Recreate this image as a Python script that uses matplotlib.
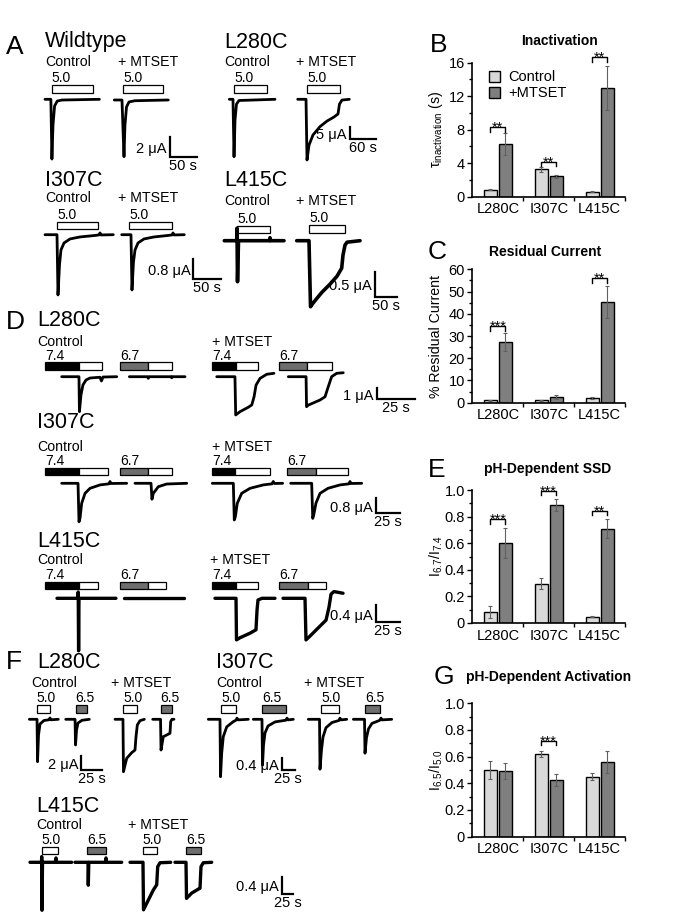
import matplotlib.pyplot as plt
from matplotlib.patches import Rectangle
import numpy as np

plt.rcParams["font.family"] = ["Liberation Sans", "DejaVu Sans"]
plt.rcParams["mathtext.fontset"] = "custom"
plt.rcParams["mathtext.rm"] = "Liberation Sans"
plt.rcParams["mathtext.it"] = "Liberation Sans:italic"

# ---------------- bar chart data ----------------
mutants = ["L280C", "I307C", "L415C"]

inact_ctrl = [0.85, 3.25, 0.6]
inact_ctrl_err = [0.05, 0.25, 0.08]
inact_mts = [6.25, 2.45, 12.95]
inact_mts_err = [1.3, 0.2, 2.6]
inact_sig = [(0, "**", 8.3), (1, "**", 4.2), (2, "**", 16.7)]

resid_ctrl = [1.0, 1.1, 2.2]
resid_ctrl_err = [0.2, 0.3, 0.5]
resid_mts = [27.2, 2.5, 45.2]
resid_mts_err = [4.0, 0.8, 7.3]
resid_sig = [(0, "***", 34.5), (2, "**", 56.0)]

ssd_ctrl = [0.083, 0.295, 0.048]
ssd_ctrl_err = [0.048, 0.04, 0.005]
ssd_mts = [0.60, 0.89, 0.71]
ssd_mts_err = [0.115, 0.045, 0.073]
ssd_sig = [(0, "***", 0.78), (1, "***", 0.995), (2, "**", 0.845)]

act_ctrl = [0.50, 0.62, 0.45]
act_ctrl_err = [0.07, 0.025, 0.027]
act_mts = [0.49, 0.425, 0.56]
act_mts_err = [0.06, 0.043, 0.085]
act_sig = [(1, "***", 0.72)]

# ---------------- current traces: time (s), current (uA) ----------------
# panel A, 5.0 application
wt_ctrl_t = [0, 11, 13, 15, 18, 23, 32, 102]
wt_ctrl_i = [0, 0, -5.8, -2.5, -0.65, -0.17, -0.07, 0]
wt_ctrl_pulse = [(12.6, 89.5, "w")]
wt_mts_t = [0, 14.4, 18.2, 20, 22.9, 27.6, 38.8, 101.3]
wt_mts_i = [0, 0, -5.5, -2.43, -0.68, -0.19, -0.07, 0]
wt_mts_pulse = [(16.9, 91.9, "w")]

a280_ctrl_t = [0, 8.5, 10.9, 13.2, 16.6, 22.4, 105.5]
a280_ctrl_i = [0, 0, -22.7, -8.2, -1.9, -0.47, 0]
a280_ctrl_pulse = [(11.5, 86.4, "w")]
a280_mts_t = [0, 19.2, 21.5, 26.1, 35.3, 51.5, 67.7, 83.8, 93.1, 96.5, 102.3, 119.2]
a280_mts_i = [0, 0, -24, -18.1, -14.1, -10.8, -8.6, -7, -5.8, -1.9, -0.3, 0]
a280_mts_pulse = [(22.2, 97.7, "w")]

a307_ctrl_t = [0, 21.7, 23.5, 26.2, 28.9, 34.4, 45.2, 63.3, 90.4, 97.6, 99.5, 101.3, 123.5]
a307_ctrl_i = [0, 0, -2.41, -1.21, -0.61, -0.33, -0.17, -0.09, -0.03, -0.01, 0.07, -0.01, 0]
a307_ctrl_pulse = [(22.2, 96.4, "w")]
a307_mts_t = [0, 16.8, 18.6, 21.3, 24.1, 29.5, 40.3, 58.4, 83.7, 90.9, 92.8, 94.6, 113.2]
a307_mts_i = [0, 0, -2.21, -1.09, -0.61, -0.33, -0.17, -0.09, -0.03, -0.01, 0.07, -0.01, 0]
a307_mts_pulse = [(13.7, 90.4, "w")]

a415_ctrl_t = [0, 29.3, 29.3, 30.5, 32.8, 104.5, 105.5, 106.5, 137.9]
a415_ctrl_i = [0, 0, 0.25, -0.82, 0, 0, 0.06, 0, 0]
a415_ctrl_pulse = [(30.0, 105.5, "w")]
a415_mts_t = [0, 28.4, 31.9, 37.6, 46.9, 58.4, 76.9, 93.1, 103.9, 106.9, 111.5, 116.2, 146.2]
a415_mts_i = [0, 0, -1.32, -1.25, -1.15, -1.03, -0.87, -0.71, -0.55, -0.29, -0.09, -0.03, 0]
a415_mts_pulse = [(29.1, 111.5, "w")]

# panel D, 7.4 -> 5.0 and 6.7 -> 5.0
d280_ctrl74_t = [10.9, 22.2, 22.5, 23.5, 24.8, 26.8, 29.4, 35.9, 36.9, 37.9, 46.9]
d280_ctrl74_i = [0, 0, -3.18, -1.67, -0.75, -0.3, -0.12, -0.05, -0.39, -0.03, 0]
d280_ctrl74_pulse = [(0, 22.4, "k"), (22.4, 37.5, "w")]
d280_ctrl67_t = [6.1, 18.0, 18.5, 19.0, 33.4, 33.8, 34.2, 42.5]
d280_ctrl67_i = [0, 0, -0.15, 0, 0, -0.1, 0, 0]
d280_ctrl67_pulse = [(0, 18.5, "g"), (18.5, 33.8, "w")]
d280_mts74_t = [2.9, 14.8, 15.3, 18.1, 23.5, 25.8, 27.3, 28.6, 31.2, 35.6, 40.3]
d280_mts74_i = [0, 0, -3.48, -3.18, -2.78, -2.57, -1.82, -0.76, -0.15, 0.22, 0.31]
d280_mts74_pulse = [(0, 15.5, "k"), (15.5, 29.7, "w")]
d280_mts67_t = [5.9, 17.5, 17.8, 19.0, 26.6, 29.9, 32.0, 34.2, 37.5, 41.8]
d280_mts67_i = [0, 0, -2.73, -2.58, -2.12, -1.82, -0.91, 0, 0.31, 0.36]
d280_mts67_pulse = [(0, 18.3, "g"), (18.3, 34.2, "w")]

d307_ctrl74_t = [17.4, 34.4, 35.4, 36.5, 38.2, 41.7, 46.9, 57.3, 66.7, 67.7, 68.8, 85.1]
d307_ctrl74_i = [0, 0, -2.15, -1.94, -1.12, -0.56, -0.28, -0.09, -0.03, 0.10, -0.01, 0]
d307_ctrl74_pulse = [(0, 35.7, "k"), (35.7, 65.9, "w")]
d307_ctrl67_t = [15.6, 32.3, 33.3, 34.7, 39.9, 48.6, 69.5]
d307_ctrl67_i = [0, 0, -0.89, -0.56, -0.19, -0.04, 0]
d307_ctrl67_pulse = [(0, 29.5, "g"), (29.5, 53.9, "w")]
d307_mts74_t = [0, 21.9, 22.9, 24.0, 26.0, 30.6, 39.3, 53.1, 62.2, 63.5, 64.8, 73.3]
d307_mts74_i = [0, 0, -2.05, -1.87, -1.12, -0.56, -0.28, -0.09, -0.03, 0.10, -0.01, 0]
d307_mts74_pulse = [(0, 23.6, "k"), (23.6, 60.1, "w")]
d307_mts67_t = [3.5, 25.4, 26.5, 27.5, 29.9, 34.1, 42.4, 54.9, 64.3, 65.3, 66.4, 77.5]
d307_mts67_i = [0, 0, -1.96, -1.77, -1.10, -0.56, -0.28, -0.09, -0.03, 0.1, -0.01, 0]
d307_mts67_pulse = [(0, 29.9, "g"), (29.9, 63.5, "w")]

d415_ctrl74_t = [12.5, 34.4, 34.6, 35.0, 35.4, 73.9]
d415_ctrl74_i = [0, 0, 0.15, -1.25, 0, 0]
d415_ctrl74_pulse = [(0, 35.7, "k"), (35.7, 55.5, "w")]
d415_ctrl67_t = [4.2, 66.7]
d415_ctrl67_i = [0, 0]
d415_ctrl67_pulse = [(0, 29.5, "g"), (29.5, 47.6, "w")]
d415_mts74_t = [2.8, 24.7, 25.2, 28.8, 39.3, 45.5, 46.6, 47.6, 51.8, 65.3]
d415_mts74_i = [0, 0, -0.99, -0.94, -0.83, -0.75, -0.28, -0.04, 0, 0]
d415_mts74_pulse = [(0, 24.7, "k"), (24.7, 47.3, "w")]
d415_mts67_t = [4.2, 27.1, 28.1, 32.3, 40.6, 49.0, 52.1, 54.2, 57.3, 66.7]
d415_mts67_i = [0, 0, -0.99, -0.90, -0.71, -0.52, -0.21, 0.1, 0.16, 0.12]
d415_mts67_pulse = [(0, 29.9, "g"), (29.9, 48.6, "w")]

# panel F, 5.0 and 6.5 applications
f280_ctrl50_t = [-8.9, 0.4, 1.0, 2.2, 4.0, 8.8, 14.8, 16.0, 17.2, 26.0]
f280_ctrl50_i = [0, 0, -6.06, -2.24, -0.67, -0.17, -0.07, 0.19, -0.07, 0]
f280_ctrl65_t = [-12, -0.8, -0.2, 1.0, 2.8, 7.6, 16.4]
f280_ctrl65_i = [0, 0, -3.67, -1.53, -0.53, -0.14, 0]
f280_mts50_t = [-10, -0.4, 0.2, 4.1, 10.1, 14.1, 15.3, 16.9, 20.1, 25.3]
f280_mts50_i = [0, 0, -7.49, -5.57, -4.77, -4.39, -2.49, -0.81, -0.2, 0]
f280_mts65_t = [-9.6, -0.2, 0.4, 3.1, 7.2, 11.2, 12.0, 13.6, 16.0]
f280_mts65_i = [0, 0, -4.39, -2.49, -2.24, -2.0, -0.34, 0, 0]
f280_pulse = [16.0, 14.0, 16.1, 13.3]

f307_ctrl50_t = [-24, -1.9, -0.9, 1.3, 4.3, 10.8, 23.2, 28.3, 30.2, 32.1, 51.5]
f307_ctrl50_i = [0, 0, -1.98, -1.17, -0.6, -0.26, -0.08, -0.03, 0.04, -0.02, 0]
f307_ctrl65_t = [-17, -0.6, 0.4, 2.3, 5.1, 10.8, 24.0, 44.7, 46.6, 48.5, 58.5]
f307_ctrl65_i = [0, 0, -1.58, -0.89, -0.47, -0.23, -0.09, -0.03, 0.04, -0.02, 0]
f307_mts50_t = [-24, -2.8, -1.9, 0.9, 3.8, 9.4, 20.8, 34, 35.8, 37.7, 48.5]
f307_mts50_i = [0, 0, -1.72, -1.06, -0.61, -0.29, -0.11, -0.04, 0.04, -0.02, 0]
f307_mts65_t = [-22, -0.9, 0, 2.8, 6.6, 13.2, 24.5, 28.3, 30.2, 32.1, 50.4]
f307_mts65_i = [0, 0, -1.17, -0.64, -0.33, -0.14, -0.06, -0.03, 0.04, -0.02, 0]
f307_pulse = [28.3, 44.2, 34.5, 28.3]

f415_ctrl50_t = [-24.9, -0.4, 0, 0.6, 1.7, 29.4, 30.4, 31.5, 63.8]
f415_ctrl50_i = [0, 0, 0.13, -1.09, 0, 0, 0.1, 0, 0]
f415_ctrl65_t = [-26.2, 1.5, 2.1, 3.2, 38.7, 39.8, 40.9, 73.2]
f415_ctrl65_i = [0, 0, -0.52, 0, 0, 0.1, 0, 0]
f415_mts50_t = [-27, 0.6, 1.7, 11.9, 22.6, 29.8, 31.9, 36.8, 59.6]
f415_mts50_i = [0, 0, -1.08, -0.86, -0.63, -0.51, -0.1, -0.01, 0]
f415_mts65_t = [-23.4, 0, 1.1, 12.1, 26.2, 29.8, 31.9, 36.8, 54.7]
f415_mts65_i = [0, 0, -0.82, -0.7, -0.61, -0.59, -0.1, -0.01, 0]
f415_pulse = [34.0, 39.1, 29.8, 31.3]

# ---------------- figure ----------------
W, H = 673, 919
fig = plt.figure(figsize=(W / 100, H / 100), dpi=100)
ax = fig.add_axes([0, 0, 1, 1])
ax.set_xlim(0, W)
ax.set_ylim(H, 0)
ax.axis("off")

fills = {"w": "white", "k": "black", "g": "#6e6e6e"}
BAR_H = 7.5


def trace(x0, y0, sx, sy, t, i, pulses, bar_y, label=None, lw=2.0):
    t = np.asarray(t, float)
    i = np.asarray(i, float)
    ax.plot(x0 + sx * t, y0 - sy * i, color="black", lw=lw,
            solid_joinstyle="round", solid_capstyle="round")
    for t0, t1, c in pulses:
        ax.add_patch(Rectangle((x0 + sx * t0, bar_y), sx * (t1 - t0), BAR_H,
                               facecolor=fills[c], edgecolor="black", lw=0.9))
    if label:
        ax.text(x0 + sx * pulses[0][0], bar_y - 2.5, label, fontsize=10,
                ha="left", va="baseline")


def scalebar(xc, yc, sx, sy, amp, dur, amp_txt, dur_txt):
    ax.plot([xc, xc, xc + sx * dur], [yc - sy * amp, yc, yc], color="black",
            lw=1.6, solid_joinstyle="miter")
    ax.text(xc - 3, yc - sy * amp / 2 + 2, amp_txt, fontsize=10.5, ha="right", va="center")
    ax.text(xc + sx * dur / 2, yc + 2, dur_txt, fontsize=10.5, ha="center", va="top")


def label(x, y, s, size=10.2):
    ax.text(x, y, s, fontsize=size, ha="left", va="center")


# panel letters
for lx, ly, s in [(6, 47, "A"), (430, 45, "B"), (428, 252, "C"), (6, 322, "D"),
                  (428, 470, "E"), (6, 662, "F"), (434, 677, "G")]:
    ax.text(lx, ly, s, fontsize=19, ha="left", va="center")

# ---- A ----
for x, y, s in [(45, 42, "Wildtype"), (224, 42, "L280C"), (45, 181, "I307C"), (224, 181, "L415C")]:
    label(x, y, s, 15.5)
for x, y, s in [(45, 62, "Control"), (118, 62, "+ MTSET"), (224, 62, "Control"), (296, 62, "+ MTSET"),
                (45, 198, "Control"), (118, 198, "+ MTSET"), (224, 201, "Control"), (296, 201, "+ MTSET")]:
    label(x, y, s)

trace(45, 99.3, 0.533, 10.3, wt_ctrl_t, wt_ctrl_i, wt_ctrl_pulse, 85, "5.0")
trace(114.3, 100, 0.533, 10.3, wt_mts_t, wt_mts_i, wt_mts_pulse, 85, "5.0")
scalebar(170, 157.3, 0.533, 10.3, 2, 50, "2 \u03bcA", "50 s")

trace(229.3, 99.3, 0.433, 2.53, a280_ctrl_t, a280_ctrl_i, a280_ctrl_pulse, 85, "5.0")
trace(297.7, 99.3, 0.433, 2.53, a280_mts_t, a280_mts_i, a280_mts_pulse, 85, "5.0")
scalebar(350, 139.3, 0.433, 2.53, 5, 60, "5 \u03bcA", "60 s")

trace(45, 234.7, 0.553, 25, a307_ctrl_t, a307_ctrl_i, a307_ctrl_pulse, 221.7, "5.0")
trace(121.7, 234.7, 0.553, 25, a307_mts_t, a307_mts_i, a307_mts_pulse, 221.7, "5.0")
scalebar(193.3, 279.3, 0.553, 25, 0.8, 50, "0.8 \u03bcA", "50 s")

trace(224.3, 240.7, 0.433, 50, a415_ctrl_t, a415_ctrl_i, a415_ctrl_pulse, 225.5, "5.0", lw=2.6)
trace(296.7, 240.7, 0.433, 50, a415_mts_t, a415_mts_i, a415_mts_pulse, 225, "5.0", lw=2.6)
scalebar(375, 296.7, 0.433, 50, 0.5, 50, "0.5 \u03bcA", "50 s")

# ---- D ----
for x, y, s in [(37, 321, "L280C"), (37, 423, "I307C"), (37, 541.7, "L415C")]:
    label(x, y, s, 15.5)
for x, y, s in [(37, 341.7, "Control"), (212, 341.7, "+ MTSET"), (37, 446.7, "Control"),
                (212, 446.7, "+ MTSET"), (37, 560, "Control"), (210, 560, "+ MTSET")]:
    label(x, y, s)

sx, sy = 1.53, 11
trace(45, 376.7, sx, sy, d280_ctrl74_t, d280_ctrl74_i, d280_ctrl74_pulse, 362.3, "7.4")
trace(120, 376.7, sx, sy, d280_ctrl67_t, d280_ctrl67_i, d280_ctrl67_pulse, 362.3, "6.7")
trace(212.3, 376.7, sx, sy, d280_mts74_t, d280_mts74_i, d280_mts74_pulse, 362.3, "7.4")
trace(279.3, 376.7, sx, sy, d280_mts67_t, d280_mts67_i, d280_mts67_pulse, 362.3, "6.7")
scalebar(376.7, 399.3, sx, sy, 1, 25, "1 \u03bcA", "25 s")

sx, sy = 0.96, 17.9
trace(45, 483.3, sx, sy, d307_ctrl74_t, d307_ctrl74_i, d307_ctrl74_pulse, 467.5, "7.4")
trace(120, 483.3, sx, sy, d307_ctrl67_t, d307_ctrl67_i, d307_ctrl67_pulse, 467.5, "6.7")
trace(212.3, 483.3, sx, sy, d307_mts74_t, d307_mts74_i, d307_mts74_pulse, 467.5, "7.4")
trace(287.3, 483.3, sx, sy, d307_mts67_t, d307_mts67_i, d307_mts67_pulse, 467.5, "6.7")
scalebar(376, 512.7, sx, sy, 0.8, 25, "0.8 \u03bcA", "25 s")

sx, sy = 0.96, 42
trace(45, 598.3, sx, sy, d415_ctrl74_t, d415_ctrl74_i, d415_ctrl74_pulse, 581.7, "7.4", lw=2.4)
trace(120, 598.3, sx, sy, d415_ctrl67_t, d415_ctrl67_i, d415_ctrl67_pulse, 581.7, "6.7", lw=2.4)
trace(212.3, 598.3, sx, sy, d415_mts74_t, d415_mts74_i, d415_mts74_pulse, 581.7, "7.4", lw=2.4)
trace(279, 598.3, sx, sy, d415_mts67_t, d415_mts67_i, d415_mts67_pulse, 581.7, "6.7", lw=2.4)
scalebar(376, 622, sx, sy, 0.4, 25, "0.4 \u03bcA", "25 s")

# ---- F ----
for x, y, s in [(37, 662, "L280C"), (216, 662, "I307C"), (36, 806.7, "L415C")]:
    label(x, y, s, 15.5)
for x, y, s in [(31, 683.3, "Control"), (111, 683.3, "+ MTSET"), (216, 683.3, "Control"),
                (304, 683.3, "+ MTSET"), (36, 825, "Control"), (128, 825, "+ MTSET")]:
    label(x, y, s)

sx, sy = 0.83, 7
trace(36.7, 719.3, sx, sy, f280_ctrl50_t, f280_ctrl50_i, [(0, f280_pulse[0], "w")], 705, "5.0")
trace(75.7, 719.3, sx, sy, f280_ctrl65_t, f280_ctrl65_i, [(0, f280_pulse[1], "g")], 705, "6.5")
trace(123.3, 719.3, sx, sy, f280_mts50_t, f280_mts50_i, [(0, f280_pulse[2], "w")], 705, "5.0")
trace(160.7, 719.3, sx, sy, f280_mts65_t, f280_mts65_i, [(0, f280_pulse[3], "g")], 705, "6.5")
scalebar(81, 770, sx, sy, 2, 25, "2 \u03bcA", "25 s")

sx, sy = 0.53, 29
trace(221, 719.3, sx, sy, f307_ctrl50_t, f307_ctrl50_i, [(0, f307_pulse[0], "w")], 705, "5.0")
trace(262.3, 719.3, sx, sy, f307_ctrl65_t, f307_ctrl65_i, [(0, f307_pulse[1], "g")], 705, "6.5")
trace(321, 719.3, sx, sy, f307_mts50_t, f307_mts50_i, [(0, f307_pulse[2], "w")], 705, "5.0")
trace(365, 719.3, sx, sy, f307_mts65_t, f307_mts65_i, [(0, f307_pulse[3], "g")], 705, "6.5")
scalebar(281.7, 770, sx, sy, 0.4, 25, "0.4 \u03bcA", "25 s")

sx, sy = 0.47, 44
trace(41.7, 862.3, sx, sy, f415_ctrl50_t, f415_ctrl50_i, [(0, f415_pulse[0], "w")], 846.7, "5.0", lw=2.4)
trace(87.3, 862.3, sx, sy, f415_ctrl65_t, f415_ctrl65_i, [(0, f415_pulse[1], "g")], 846.7, "6.5", lw=2.4)
trace(142.7, 862.3, sx, sy, f415_mts50_t, f415_mts50_i, [(0, f415_pulse[2], "w")], 846.7, "5.0", lw=2.4)
trace(186, 862.3, sx, sy, f415_mts65_t, f415_mts65_i, [(0, f415_pulse[3], "g")], 846.7, "6.5", lw=2.4)
scalebar(281.7, 894.3, sx, sy, 0.4, 25, "0.4 \u03bcA", "25 s")


# ---------------- bar charts ----------------
def bar_panel(top, bottom, ctrl, ctrl_err, mts, mts_err, ymax, major, minor, sig,
              title, title_xy, ylabel, fmt, legend=False):
    left, right = 472.5, 625
    bax = fig.add_axes([left / W, 1 - bottom / H, (right - left) / W, (bottom - top) / H])
    bax.patch.set_alpha(0)
    x = np.arange(3) + 0.5
    ekw = dict(ecolor="#606060", elinewidth=0.8, capsize=1.6, capthick=0.8)
    bax.bar(x - 0.147, ctrl, 0.255, yerr=ctrl_err, color="#d9d9d9", edgecolor="black",
            lw=1.0, error_kw=ekw, label="Control")
    bax.bar(x + 0.147, mts, 0.255, yerr=mts_err, color="#7f7f7f", edgecolor="black",
            lw=1.0, error_kw=ekw, label="+MTSET")
    d = 0.035 * ymax
    for g, stars, h in sig:
        xa, xb = x[g] - 0.147, x[g] + 0.147
        bax.plot([xa, xa, xb, xb], [h - d, h, h, h - d], color="black", lw=1.0, clip_on=False)
        bax.annotate(stars, (x[g], h), xytext=(0, -3.5), textcoords="offset points",
                     ha="center", va="baseline", fontsize=10.5, annotation_clip=False)
    bax.set_xlim(0, 3)
    bax.set_ylim(0, ymax)
    bax.set_yticks(np.arange(0, ymax + 1e-9, major))
    bax.set_yticks(np.arange(0, ymax + 1e-9, minor), minor=True)
    bax.set_yticklabels([fmt(v) for v in np.arange(0, ymax + 1e-9, major)], fontsize=10.5)
    bax.set_xticks(x)
    bax.set_xticklabels(mutants, fontsize=10.5)
    bax.set_xticks([1, 2, 3], minor=True)
    bax.tick_params(axis="x", which="major", length=0, pad=4)
    bax.tick_params(axis="x", which="minor", length=3, width=1, direction="out")
    bax.tick_params(axis="y", which="major", length=3.5, width=1, pad=2)
    bax.tick_params(axis="y", which="minor", length=2.5, width=1)
    for s in ["top", "right"]:
        bax.spines[s].set_visible(False)
    for s in ["left", "bottom"]:
        bax.spines[s].set_linewidth(1.2)
    ax.text(title_xy[0], title_xy[1], title, fontsize=10, fontweight="bold",
            ha="center", va="center")
    ax.text(436, (top + bottom) / 2, ylabel, fontsize=10.2, rotation=90,
            ha="center", va="center")
    if legend:
        bax.legend(loc="upper left", bbox_to_anchor=(0.04, 1.02), frameon=False,
                   fontsize=10.5, handlelength=0.8, handleheight=0.8,
                   handletextpad=0.5, labelspacing=0.15, borderpad=0.2)
    return bax


int_fmt = lambda v: f"{v:g}"
dec_fmt = lambda v: "0" if v == 0 else f"{v:.1f}"

bar_panel(62.7, 196.7, inact_ctrl, inact_ctrl_err, inact_mts, inact_mts_err, 16, 4, 2,
          inact_sig, "Inactivation", (560, 41), "\u03c4$_{\\mathrm{inactivation}}$ (s)",
          int_fmt, legend=True)
bar_panel(269.3, 402.7, resid_ctrl, resid_ctrl_err, resid_mts, resid_mts_err, 60, 10, 5,
          resid_sig, "Residual Current", (545, 251.7), "% Residual Current", int_fmt)
bar_panel(490, 623, ssd_ctrl, ssd_ctrl_err, ssd_mts, ssd_mts_err, 1.0, 0.2, 0.1,
          ssd_sig, "pH-Dependent SSD", (548, 469.3), "I$_{6.7}$/I$_{7.4}$", dec_fmt)
bar_panel(703.3, 836.5, act_ctrl, act_ctrl_err, act_mts, act_mts_err, 1.0, 0.2, 0.1,
          act_sig, "pH-Dependent Activation", (549, 676.7), "I$_{6.5}$/I$_{5.0}$", dec_fmt)

fig.savefig("out.png", dpi=100)
